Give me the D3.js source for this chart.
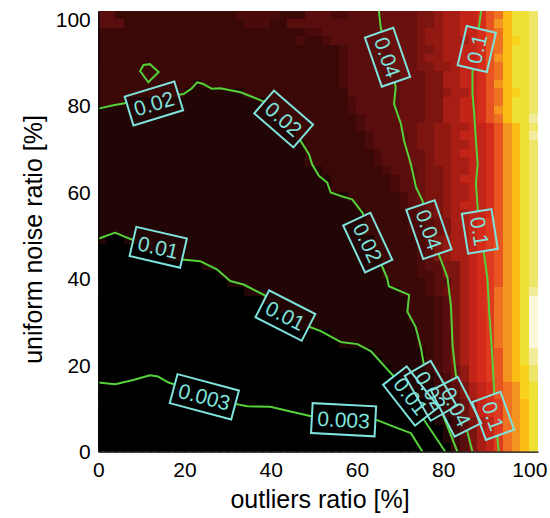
<!DOCTYPE html>
<html>
<head>
<meta charset="utf-8">
<script src="https://cdn.jsdelivr.net/npm/d3@7"></script>
<style>
  body { margin: 0; background: #fff; }
  text { font-family: "Liberation Sans", Arial, Helvetica, sans-serif; }
</style>
</head>
<body>
<svg id="chart" width="550" height="518"></svg>
<script>
var xTicks = [0, 20, 40, 60, 80, 100]
var yTicks = [0, 20, 40, 60, 80, 100]

// colour levels of the map (hot colormap steps)
var levelKeys = "0123456789abcdefghijk"
var levelColors = ["#000000", "#220606", "#3b0808", "#4a0a0a", "#590d0c", "#6a100e", "#7c1410",
    "#921912", "#a91e14", "#c22417", "#d42b1b", "#de3a1f", "#e75421", "#ee7222", "#f4951f",
    "#fbbd14", "#f8d21c", "#efe035", "#eee668", "#f2ec9c", "#fcf8dc"]

// one string per row, top row first, 51 cells of 2% each, run-length coded "level*count"
var heatRows = [
    "4*2 2*14 3*5 2*3 4*3 3*2 4*4 5*4 6*2 7 8 8 9*2 a c d f h*2 i",
    "4*3 2*14 3*3 2*2 4*11 5*4 6*2 7 8 8 9*2 a c e f h*2 i",
    "2*24 3*2 4*7 5*4 6 7*2 8 8 9*2 a c d f h*2 i",
    "2*23 3 2*2 3 4*6 5*4 6 7*2 8 8*2 9 a c d f g h i",
    "2*28 3 4*5 5*3 6*2 7 8 8 9*2 a c d f h*2 i",
    "2*28 3 4*5 5*3 6 7*2 8 8 9*2 a c e f h*2 i",
    "2*28 3 4*5 5*3 6*2 7*2 8 9*2 a c d f h*2 i",
    "2*28 3 4*6 5*3 6*2 8 8 9*2 a c d f h*2 i",
    "2*11 1 2*16 3 4*6 5*3 6*2 8 8 9*2 a c e f h*2 i",
    "2*10 1*7 2*12 4*6 5*3 6*2 7 8*2 9 a c d f g h i",
    "2*3 1*17 2*9 3 4*5 5*3 6*2 8 8 9*2 a c d f h*2 i",
    "1*20 2*9 3 4*5 5*3 6*2 8 8 9*2 a c e f h*2 i",
    "1*21 2*9 3 4*4 5*3 6*2 8 8 9*2 a c d f h*2 j",
    "1*22 2*8 3 4*4 5*2 6*2 7*2 8*2 9*2 a c e f h i",
    "1*23 2*8 3 4*4 5 6*2 7*2 8 9*3 a c e f h j",
    "1*24 2*7 3 4*4 5 6*2 7*2 8*2 9*2 a c e f h i",
    "1*24 2*8 3 4*3 5*2 6 7*2 8 9*3 a c e f h i",
    "1*24 2*8 3 4*3 5*2 6 7*2 8*2 9*2 a c e f h i",
    "1*26 2*7 3 4*3 5 6*2 7 8*2 9*2 a c e f h i",
    "1*27 2*7 3 4*2 5 6*2 7 8 9*3 a c e f h i",
    "1*27 2*7 3 4*2 5 6*2 7 8*2 9*2 a c e f h i",
    "1*29 2*6 3 4 5 6*2 7 8*2 9*2 a c e f h i",
    "1*30 2*5 3 4*2 5 6 7 8 9*3 a c e f h i",
    "1*31 2*5 3 4 5 6 7 8*2 9*2 a c e f h i",
    "1*31 2*5 3*2 4 5 6 8*2 9 a b c e f h i",
    "1*31 2*5 3*2 4 5 6 8*2 9 a b c e f h i",
    "1 0*2 1*29 2*5 3 4 6 7 8*2 9 a b c e f h i",
    "0*5 1*27 2*5 3 4 6 7 8*2 9 a b c e f h i",
    "0*8 1*25 2*4 3 4 6 7 8*2 9 a b c e f h i",
    "0*12 1*21 2*4 3 4*2 6 6 8 9 a b c e f h i",
    "0*14 1*19 2*4 3*2 4 6 6 8 9 a b c e f h i",
    "0*15 1*19 2*4 3 4*2 6 8 9 a b c e f h i",
    "0*17 1*18 2*3 3 4 5 6 8 9 a b d e f h j",
    "0*19 1*17 2*3 3 4 6 8 9 a b d e f h k",
    "0*21 1*15 2*3 3 4 6 8 9 a b d e f h k",
    "0*22 1*14 2*3 3 4 6 8 9 a b d e f h k",
    "0*23 1*14 2*2 3 4 6 8 9 a b d e f h k",
    "0*27 1*10 2*2 3 4 6 8 9 a b d e f h k",
    "0*28 1*9 2*2 3 4 6 8 9 a b d e f h k",
    "0*32 1*6 2 3 4 6 8 9 a b c e f h j",
    "0*33 1*5 2 3 4 6 8 9 a b c e f h j",
    "0*34 1*4 2 3 4 5 7 9 a b c e f g i",
    "0*35 1*4 2 3 5 7 9 a b c e f g i",
    "0*36 1*3 2 3 4 6 8 9 a c d e g h",
    "0*37 1*2 2 3 4 6 8 9 a c d e g h",
    "0*38 1*2 2 3 5 7 9 a b d e f h",
    "0*38 1*2 2 3 5 7 9 a b d e f h",
    "0*39 1*2 2 4 6 8 9 b d e f h",
    "0*40 1 2 4 6 8 9 b d e f h",
    "0*40 1 2 4 6 8 9 b d e f h",
    "0*41 2 4 6 8 9 b d e f h"
]

// contour lines, [outliers %, uniform noise %]
var contour003 = [[0, 16.0], [3.9, 15.6], [8.1, 16.6], [12.0, 17.7], [13.9, 17.4], [16.3, 16.0], [23.7, 13.6],
    [30.6, 11.3], [34.5, 10.5], [39.9, 10.4], [44.6, 9.3], [49.9, 8.1], [57.4, 7.6], [64.7, 7.3],
    [68.5, 5.8], [72.5, 4.3], [75.2, 0]]
var contour01 = [[0, 49.3], [3.9, 50.7], [5.8, 49.9], [12.5, 47.2], [19.4, 44.5], [23.6, 44.1], [27.5, 42.2],
    [30.6, 39.5], [33.7, 38.7], [38.4, 36.3], [43.4, 32.6], [48.5, 29.1], [51.6, 27.9], [56.2, 25.4],
    [60.1, 24.9], [63.2, 23.3], [67.1, 19.0], [68.6, 17.4], [74.8, 8.5], [80.5, 0]]
var contour02 = [[0, 79.4], [3.5, 80.2], [11.5, 81.6], [19.8, 82.8], [21.7, 84.1], [22.9, 85.5], [24.4, 85.1],
    [26.4, 84.0], [28.3, 84.1], [33.0, 83.2], [36.8, 81.7], [40.7, 80.0], [43.9, 76.0], [46.9, 72.0],
    [48.9, 68.8], [49.6, 66.5], [51.2, 63.8], [53.1, 62.3], [53.9, 60.0], [56.2, 59.2], [58.9, 58.4],
    [61.3, 55.3], [63.7, 47.9], [67.0, 40.2], [67.4, 38.3], [72.1, 36.3], [71.7, 32.4], [73.6, 28.9],
    [74.8, 24.3], [75.6, 19.7], [79.5, 9.6], [83.3, 0]]
var island02 = [[12.0, 89.7], [14.0, 87.9], [11.6, 85.5], [9.7, 88.1], [10.5, 89.5]]
var contour04 = [[65.1, 102], [65.5, 98.3], [67.1, 91.3], [69.0, 84.4], [68.6, 80.5], [70.2, 75.9], [70.9, 72.1],
    [72.5, 66.6], [73.7, 61.2], [75.2, 58.1], [76.7, 51.4], [79.1, 45.4], [81.0, 40.3], [81.8, 33.8],
    [82.2, 24.4], [82.9, 18.2], [84.2, 10.0], [86.8, 0]]
var contour1 = [[88.8, 102], [88.3, 98.3], [87.8, 93.2], [86.8, 87.9], [86.8, 82.9], [87.2, 78.2], [87.6, 72.0],
    [88.0, 66.6], [87.6, 62.0], [88.0, 56.6], [88.5, 50.9], [89.5, 45.6], [90.3, 39.8], [90.7, 32.1],
    [91.5, 20.5], [92.0, 9.7], [92.9, 0]]

// contour labels: text, position, rotation
var labelTexts = ["0.02", "0.02", "0.02", "0.01", "0.01", "0.003", "0.003", "0.04", "0.04", "0.1", "0.1",
    "0.01", "0.02", "0.04", "0.1"]
var labelPos = [[12.9, 80.6], [43.0, 77.0], [62.5, 48.4], [13.9, 47.3], [43.4, 31.5], [24.6, 12.7], [56.9, 7.4],
    [67.1, 91.3], [76.7, 51.4], [87.8, 93.2], [88.5, 51.0],
    [72.5, 12.9], [77.1, 14.1], [83.0, 10.4], [91.6, 8.3]]
var labelAngles = [-17, 41, 65, 13, 27, 15, 3, 71, 71, -77, 81, 52, 60, 63, 70]

var svg = d3.select("#chart")
var x = d3.scaleLinear().domain([0, 102]).range([98.3, 538])
var y = d3.scaleLinear().domain([0, 102]).range([451.7, 11])

var defs = svg.append("defs")
defs.append("clipPath").attr("id", "plotClip")
    .append("rect")
    .attr("x", x(0)).attr("y", y(102))
    .attr("width", x(102) - x(0)).attr("height", y(0) - y(102))

function decodeRow(s) {
    var cells = []
    s.split(" ").forEach(function (tok) {
        var parts = tok.split("*")
        var n = parts.length > 1 ? +parts[1] : 1
        for (var k = 0; k < n; k++) cells.push(parts[0])
    })
    return cells
}

//heatmap
var heat = svg.append("g")
    .attr("clip-path", "url(#plotClip)")
    .attr("shape-rendering", "crispEdges")
heatRows.forEach(function (row, r) {
    var y0 = Math.floor(y(102 - 2 * r))
    var y1 = Math.ceil(y(100 - 2 * r)) + 1
    heat.append("g")
        .selectAll("rect")
        .data(decodeRow(row))
        .enter()
        .append("rect")
        .attr("x", function (d, i) { return Math.floor(x(2 * i)) })
        .attr("y", y0)
        .attr("width", function (d, i) { return Math.ceil(x(2 * i + 2)) - Math.floor(x(2 * i)) + 1 })
        .attr("height", y1 - y0)
        .attr("fill", function (d) { return levelColors[levelKeys.indexOf(d)] })
})

//labels first (to measure), then mask for the lines
var labelData = labelTexts.map(function (t, i) {
    return { text: t, x: labelPos[i][0], y: labelPos[i][1], angle: labelAngles[i] }
})
var lineLayer = svg.append("g")
var labelLayer = svg.append("g")

var labels = labelLayer.selectAll(".clabel")
    .data(labelData)
    .enter()
    .append("g")
    .attr("class", "clabel")
    .attr("transform", function (d) {
        return "translate(" + x(d.x) + "," + y(d.y) + ") rotate(" + d.angle + ")"
    })

labels.append("text")
    .attr("text-anchor", "middle")
    .attr("dominant-baseline", "central")
    .style("font-size", "21px")
    .style("fill", "#7fe3dd")
    .text(function (d) { return d.text })

var boxH = 30
labels.each(function (d) {
    d.w = d3.select(this).select("text").node().getComputedTextLength() + 11
})
labels.insert("rect", "text")
    .attr("x", function (d) { return -d.w / 2 })
    .attr("y", -boxH / 2)
    .attr("width", function (d) { return d.w })
    .attr("height", boxH)
    .style("fill", "none")
    .style("stroke", "#7fe3dd")
    .style("stroke-width", 2)

var mask = defs.append("mask").attr("id", "labelMask")
mask.append("rect").attr("x", 0).attr("y", 0).attr("width", 550).attr("height", 518).style("fill", "white")
mask.selectAll(".hole")
    .data(labelData)
    .enter()
    .append("rect")
    .attr("class", "hole")
    .attr("transform", function (d) {
        return "translate(" + x(d.x) + "," + y(d.y) + ") rotate(" + d.angle + ")"
    })
    .attr("x", function (d) { return -d.w / 2 })
    .attr("y", -boxH / 2)
    .attr("width", function (d) { return d.w })
    .attr("height", boxH)
    .style("fill", "black")

//contour lines
var line = d3.line()
    .x(function (d) { return x(d[0]) })
    .y(function (d) { return y(d[1]) })
    .curve(d3.curveLinear)

var lineGroup = lineLayer.append("g")
    .attr("mask", "url(#labelMask)")
    .attr("clip-path", "url(#plotClip)")

;[contour003, contour01, contour02, contour04, contour1].forEach(function (pts) {
    lineGroup.append("path")
        .attr("d", line(pts))
        .style("fill", "none")
        .style("stroke", "#55d23a")
        .style("stroke-width", 2)
        .style("stroke-linejoin", "round")
})
lineGroup.append("path")
    .attr("d", line.curve(d3.curveLinearClosed)(island02))
    .style("fill", "none")
    .style("stroke", "#55d23a")
    .style("stroke-width", 2)

//axes
var xAxis = svg.append("g")
    .attr("transform", "translate(0," + y(0) + ")")
    .call(d3.axisBottom(x).tickValues(xTicks).tickSize(0).tickSizeOuter(0).tickPadding(10))
var yAxis = svg.append("g")
    .attr("transform", "translate(" + x(0) + ",0)")
    .call(d3.axisLeft(y).tickValues(yTicks).tickSize(0).tickSizeOuter(0).tickPadding(7.5))

svg.selectAll(".domain").style("stroke", "#000").style("stroke-width", 1.2)
svg.selectAll(".tick text")
    .style("font-family", "'Liberation Sans', Arial, sans-serif")
    .style("font-size", "21px")
    .style("fill", "#000")

svg.append("text")
    .attr("x", 320)
    .attr("y", 508)
    .attr("text-anchor", "middle")
    .style("font-size", "25px")
    .style("fill", "#000")
    .text("outliers ratio [%]")

svg.append("text")
    .attr("transform", "translate(41.7,239.5) rotate(-90)")
    .attr("text-anchor", "middle")
    .style("font-size", "25px")
    .style("fill", "#000")
    .text("uniform noise ratio [%]")
</script>
</body>
</html>
